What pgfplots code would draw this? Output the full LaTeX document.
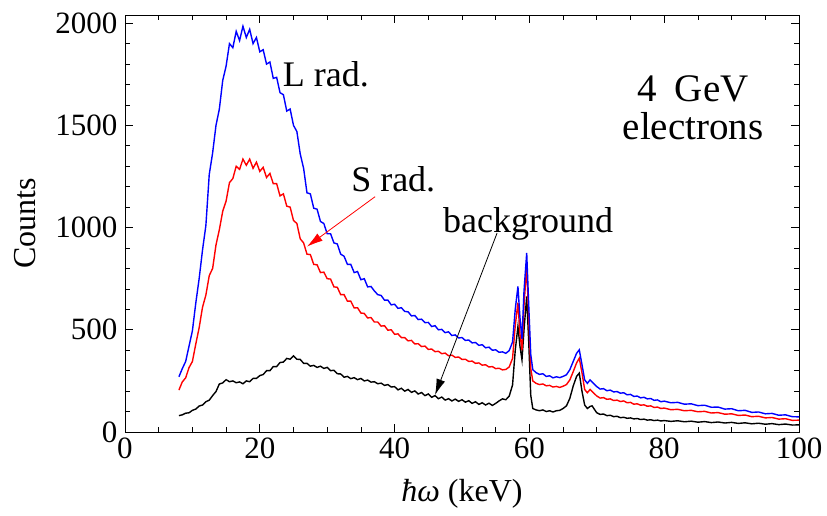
\documentclass[border=0pt]{standalone}
\usepackage{fontspec}
\setmainfont{Liberation Serif}
\usepackage{pgfplots}
\pgfplotsset{compat=1.18}
\usetikzlibrary{arrows.meta,calc}
\definecolor{pblue}{RGB}{0,0,255}
\definecolor{pred}{RGB}{255,0,0}
\begin{document}
\begin{tikzpicture}
\begin{axis}[
  scale only axis, width=674pt, height=417pt,
  xmin=0, xmax=100, ymin=0, ymax=2040,
  xtick={0,20,40,60,80,100}, ytick={0,500,1000,1500,2000},
  minor x tick num=3, minor y tick num=4,
  tick align=inside,
  major tick length=8pt, minor tick length=5pt,
  every tick/.style={black, line width=0.8pt},
  axis line style={line width=0.8pt},
  /pgf/number format/assume math mode=true,
  /pgf/number format/set thousands separator={},
  tick label style={font=\fontsize{31}{36}\selectfont},
  xticklabel style={yshift=-2pt},
  yticklabel style={xshift=-4pt},
  xlabel={\textit{ħω} (keV)},
  ylabel={Counts},
  every axis x label/.style={at={(axis description cs:0.5,-0.149)}, anchor=center, font=\fontsize{32}{38}\selectfont},
  every axis y label/.style={at={(axis description cs:-0.148,0.5)}, anchor=center, rotate=90, font=\fontsize{32}{38}\selectfont},
  clip=true,
]
\addplot[black, line width=1.4pt] coordinates {
(8,80)(8.5,84)(9,92)(9.5,94)(10,106)(10.5,112)(11,127)(11.5,132)(12,148)(12.5,156)
(13,178)(13.5,198)(14,235)(14.5,240)(15,256)(15.5,246)(16,250)(16.5,241)(17,245)(17.5,236)
(18,250)(18.5,246)(19,262)(19.5,262)(20,276)(20.5,281)(21,300)(21.5,300)(22,320)(22.5,320)
(23,340)(23.5,342)(24,360)(24.5,356)(25,372)(25.5,356)(26,355)(26.5,336)(27,336)(27.5,322)
(28,326)(28.5,316)(29,322)(29.5,311)(30,316)(30.5,300)(31,302)(31.5,285)(32,284)(32.5,268)
(33,272)(33.5,261)(34,266)(34.5,256)(35,262)(35.5,250)(36,254)(36.5,244)(37,246)(37.5,236)
(38,239)(38.5,228)(39,232)(39.5,220)(40,222)(40.5,206)(41,214)(41.5,200)(42,208)(42.5,194)
(43,201)(43.5,186)(44,193)(44.5,178)(45,186)(45.5,170)(46,178)(46.5,163)(47,171)(47.5,156)
(48,163)(48.5,152)(49,161)(49.5,150)(50,158)(50.5,146)(51,153)(51.5,140)(52,148)(52.5,135)
(53,143)(53.5,132)(54,141)(54.5,130)(55,140)(55.5,152)(56,162)(56.5,158)(57,175)(57.5,230)
(57.9,400)(58.3,516)(58.6,420)(58.9,353)(59.2,500)(59.6,663)(59.9,440)(60.2,180)(60.5,115)
(61,108)(61.5,104)(62,108)(62.5,100)(63,104)(63.5,98)(64,104)(64.5,106)(65,115)(65.5,128)
(66,165)(66.5,225)(67,272)(67.4,288)(67.8,200)(68.2,132)(68.6,115)(69,125)(69.3,128)(69.7,108)
(70,94)(70.5,86)(71,88)(71.5,80)(72,82)(72.5,75)(73,77)(73.5,70)(74,72)(74.5,67)
(75,69)(75.5,64)(76,66)(76.5,61)(77,63)(77.5,58)(78,60)(78.5,56)(79,58)(79.5,54)
(80,56)(81,52)(82,55)(83,50)(84,53)(85,48)(86,51)(87,46)(88,49)(89,44)
(90,47)(91,42)(92,45)(93,40)(94,43)(95,38)(96,41)(97,36)(98,39)(99,34)(100,35)
};
\addplot[pred, line width=1.4pt] coordinates {
(8,205)(8.5,245)(9,265)(9.5,315)(10,345)(10.5,430)(11,510)(11.5,610)(12,670)(12.5,765)
(13,800)(13.5,915)(14,990)(14.5,1080)(15,1130)(15.5,1220)(16,1240)(16.5,1300)(17,1285)(17.5,1335)
(18,1305)(18.5,1335)(19,1290)(19.5,1320)(20,1275)(20.5,1295)(21,1245)(21.5,1265)(22,1215)(22.5,1215)
(23,1155)(23.5,1165)(24,1105)(24.5,1100)(25,1035)(25.5,1020)(26,945)(26.5,925)(27,870)(27.5,868)
(28,820)(28.5,818)(29,780)(29.5,782)(30,750)(30.5,748)(31,710)(31.5,708)(32,672)(32.5,672)
(33,640)(33.5,640)(34,607)(34.5,608)(35,582)(35.5,580)(36,558)(36.5,560)(37,538)(37.5,538)
(38,518)(38.5,520)(39,498)(39.5,500)(40,478)(40.5,480)(41,462)(41.5,462)(42,446)(42.5,448)
(43,431)(43.5,432)(44,418)(44.5,420)(45,404)(45.5,406)(46,393)(46.5,395)(47,383)(47.5,386)
(48,373)(48.5,376)(49,365)(49.5,367)(50,355)(50.5,356)(51,345)(51.5,347)(52,336)(52.5,338)
(53,327)(53.5,329)(54,318)(54.5,320)(55,310)(55.5,312)(56,304)(56.5,306)(57,318)(57.5,360)
(57.9,520)(58.3,632)(58.6,480)(58.9,400)(59.2,620)(59.6,810)(59.9,560)(60.2,310)(60.5,250)
(61,238)(61.5,232)(62,235)(62.5,226)(63,228)(63.5,220)(64,223)(64.5,218)(65,224)(65.5,232)
(66,255)(66.5,295)(67,338)(67.4,361)(67.8,290)(68.2,208)(68.6,192)(69,208)(69.5,192)(70,176)
(70.5,166)(71,168)(71.5,160)(72,162)(72.5,154)(73,156)(73.5,149)(74,152)(74.5,143)(75,145)
(75.5,136)(76,138)(76.5,131)(77,133)(77.5,126)(78,128)(78.5,120)(79,122)(79.5,115)(80,117)
(81,109)(82,111)(83,104)(84,106)(85,99)(86,101)(87,93)(88,95)(89,87)(90,89)
(91,81)(92,83)(93,75)(94,77)(95,69)(96,71)(97,63)(98,65)(99,57)(100,58)
};
\addplot[pblue, line width=1.4pt] coordinates {
(8,270)(8.5,310)(9,345)(9.5,420)(10,495)(10.5,630)(11,750)(11.5,890)(12,1010)(12.5,1260)
(13,1365)(13.5,1500)(14,1580)(14.5,1720)(15,1790)(15.5,1900)(16,1880)(16.5,1960)(17,1915)(17.5,1985)
(18,1930)(18.5,1970)(19,1900)(19.5,1930)(20,1860)(20.5,1870)(21,1800)(21.5,1810)(22,1730)(22.5,1735)
(23,1660)(23.5,1650)(24,1570)(24.5,1580)(25,1500)(25.5,1470)(26,1360)(26.5,1290)(27,1170)(27.5,1165)
(28,1095)(28.5,1090)(29,1030)(29.5,1020)(30,970)(30.5,970)(31,925)(31.5,920)(32,870)(32.5,860)
(33,820)(33.5,820)(34,780)(34.5,785)(35,745)(35.5,750)(36,710)(36.5,712)(37,690)(37.5,672)
(38,668)(38.5,645)(39,645)(39.5,622)(40,625)(40.5,605)(41,608)(41.5,590)(42,588)(42.5,568)
(43,570)(43.5,550)(44,552)(44.5,535)(45,536)(45.5,516)(46,520)(46.5,500)(47,502)(47.5,486)
(48,490)(48.5,472)(49,475)(49.5,460)(50,462)(50.5,448)(51,450)(51.5,436)(52,438)(52.5,424)
(53,427)(53.5,412)(54,415)(54.5,400)(55,402)(55.5,390)(56,392)(56.5,385)(57,398)(57.5,440)
(57.9,600)(58.3,712)(58.6,560)(58.9,455)(59.2,690)(59.6,876)(59.9,620)(60.2,380)(60.5,305)
(61,290)(61.5,282)(62,285)(62.5,272)(63,275)(63.5,265)(64,270)(64.5,266)(65,272)(65.5,280)
(66,305)(66.5,345)(67,385)(67.4,402)(67.8,330)(68.2,255)(68.6,238)(69,255)(69.5,238)(70,222)
(70.5,210)(71,212)(71.5,202)(72,205)(72.5,196)(73,198)(73.5,190)(74,192)(74.5,182)(75,184)
(75.5,174)(76,176)(76.5,167)(77,170)(77.5,162)(78,164)(78.5,155)(79,157)(79.5,148)(80,151)
(81,143)(82,145)(83,136)(84,138)(85,129)(86,131)(87,121)(88,122)(89,112)(90,114)
(91,104)(92,106)(93,96)(94,98)(95,89)(96,91)(97,82)(98,84)(99,75)(100,74)
};
\node[anchor=base, font=\fontsize{36}{40}\selectfont] at (axis cs:29.8,1691) {L rad.};
\node[anchor=base, font=\fontsize{36}{40}\selectfont] at (axis cs:39.8,1175) {S rad.};
\node[anchor=base, font=\fontsize{36}{40}\selectfont] at (axis cs:59.8,974) {background};
\node[anchor=north, align=center, font=\fontsize{39}{38}\selectfont, inner sep=0pt] at (axis cs:84.3,1745) {4\hspace{0.45em}GeV\\electrons};
\draw[pred, line width=0.8pt, -{Latex[length=16pt,width=9pt]}] (axis cs:37.1,1151) -- (axis cs:27.0,907);
\draw[black, line width=0.8pt, -{Latex[length=16pt,width=9pt]}] (axis cs:55.2,973) -- (axis cs:46.0,181);
\end{axis}
\pgfresetboundingbox
\path ($(current axis.south west)+(-125pt,-83pt)$) rectangle ($(current axis.north east)+(28pt,15pt)$);
\end{tikzpicture}
\end{document}
